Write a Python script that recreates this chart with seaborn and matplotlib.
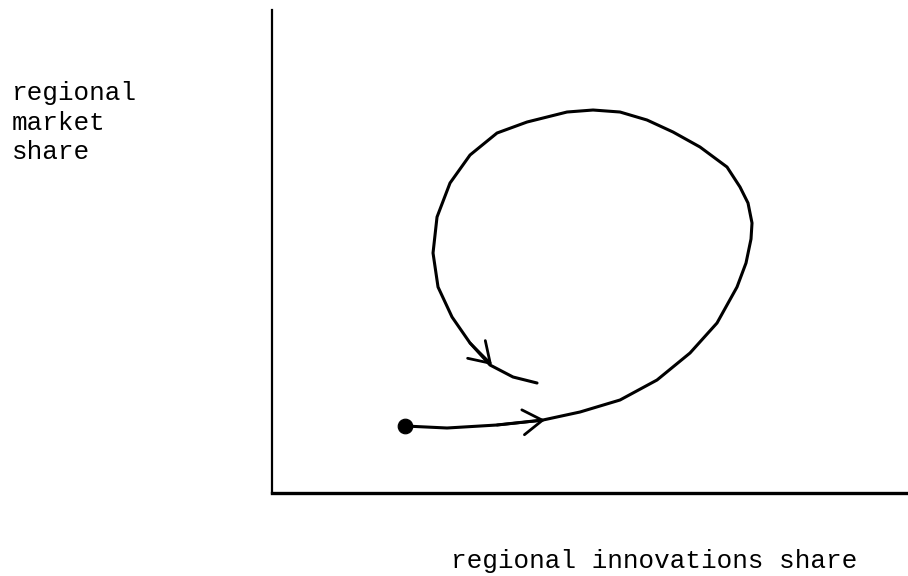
import numpy as np
import pandas as pd
import matplotlib
matplotlib.use("Agg")
import matplotlib.pyplot as plt
import seaborn as sns

# trajectory (arbitrary units, origin at the axes corner)
innovacao = [133, 175, 225, 271, 308, 348, 385, 418, 445, 465, 474, 479, 480, 476,
             468, 455, 428, 401, 375, 348, 321, 295, 255, 225, 198, 178, 165, 161,
             166, 180, 198, 218, 241, 265]
mercado = [67, 65, 68, 73, 81, 93, 113, 140, 170, 206, 230, 254, 270, 290,
           306, 326, 346, 361, 373, 381, 383, 381, 371, 360, 338, 310, 276, 240,
           206, 176, 150, 128, 116, 110]

# arrow heads: (tail, tip) pairs along the path
setas = [((225, 68), (273, 73)), ((198, 150), (220, 128))]

rotulo_x = "regional innovations share"
rotulo_y = "regional\nmarket\nshare"

sns.set_style("white")
plt.rcParams["font.family"] = ["Liberation Mono", "DejaVu Sans Mono"]

df = pd.DataFrame({"x": innovacao, "y": mercado})

fig = plt.figure(figsize=(9.08, 5.76), dpi=100)
ax = fig.add_axes([0.2996, 0.1441, 0.7004, 0.8385])

sns.lineplot(data=df, x="x", y="y", sort=False, estimator=None,
             color="black", lw=2.2, ax=ax)
sns.scatterplot(x=[innovacao[0]], y=[mercado[0]], color="black", s=110,
                edgecolor="black", ax=ax, zorder=5)

for cauda, ponta in setas:
    ax.annotate("", xy=ponta, xytext=cauda,
                arrowprops=dict(arrowstyle="->,head_length=0.7,head_width=0.45",
                                lw=2.0, color="black", mutation_scale=20,
                                shrinkA=0, shrinkB=0))

ax.set_xlim(0, 636)
ax.set_ylim(0, 483)
ax.set_xticks([])
ax.set_yticks([])
sns.despine(ax=ax)
ax.spines["left"].set_linewidth(1.6)
ax.spines["bottom"].set_linewidth(2.4)
ax.spines["left"].set_color("black")
ax.spines["bottom"].set_color("black")

ax.set_xlabel(rotulo_x, fontsize=18.7, va="baseline", ha="center",
              color="black")
ax.xaxis.set_label_coords(0.6006, -0.155)
ax.set_ylabel(rotulo_y, fontsize=18.7, rotation=0, ha="left", va="top",
              linespacing=1.29, color="black")
ax.yaxis.set_label_coords(-0.409, 0.853)

plt.savefig("out.png", dpi=100)
